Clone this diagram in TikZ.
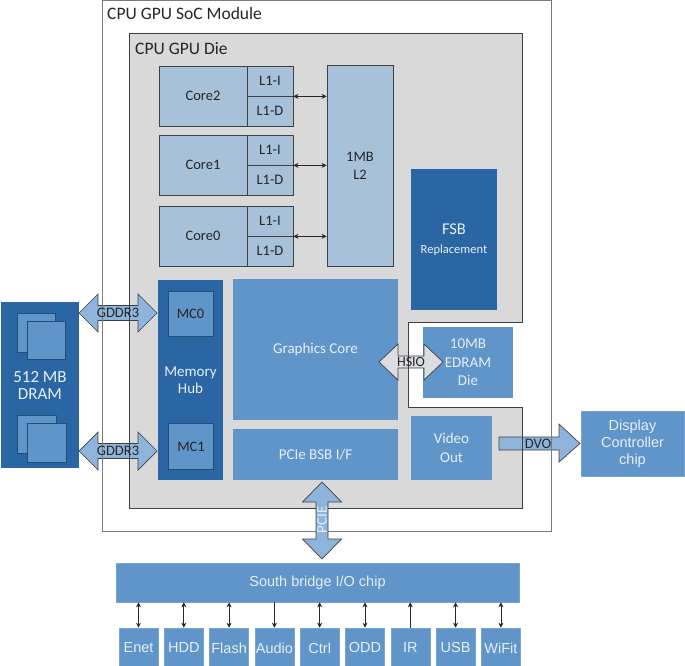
\documentclass[tikz,border=0pt]{standalone}
\usepackage{fontspec}
\setmainfont{Carlito}
\newfontfamily\lib{Liberation Sans}
\usetikzlibrary{arrows.meta}
\definecolor{diegray}{HTML}{D9D9D9}
\definecolor{lightblue}{HTML}{A7C1DB}
\definecolor{medblue}{HTML}{5F95C8}
\definecolor{darkblue}{HTML}{2A66A4}
\definecolor{arrowblue}{HTML}{8EB4DC}
\definecolor{hsiogray}{HTML}{DCDDE2}
\definecolor{lighttext}{HTML}{E8EEF5}
\definecolor{darktext}{HTML}{262626}
\definecolor{edge}{HTML}{404040}
\definecolor{modgray}{HTML}{7A7A7A}
\definecolor{sqedge}{HTML}{1F4E79}
\newcommand\fsz[2]{\fontsize{#1}{#2}\selectfont}
\newcommand\dieoutline{(129,33) -- (522,33) -- (522,322) -- (408,322) -- (408,407) -- (522,407) -- (522,508) -- (129,508) -- cycle}
% horizontal double block arrow: x1,x2,y,shaft half,head half,head length,style
\newcommand\hdblarrow[7]{%
  \draw[#7] (#1,#3) -- ({#1+#6},{#3-#5}) -- ({#1+#6},{#3-#4}) -- ({#2-#6},{#3-#4}) -- ({#2-#6},{#3-#5}) -- (#2,#3) -- ({#2-#6},{#3+#5}) -- ({#2-#6},{#3+#4}) -- ({#1+#6},{#3+#4}) -- ({#1+#6},{#3+#5}) -- cycle;}
% vertical double block arrow: y1,y2,x,shaft half,head half,head length,style
\newcommand\vdblarrow[7]{%
  \draw[#7] (#3,#1) -- ({#3-#5},{#1+#6}) -- ({#3-#4},{#1+#6}) -- ({#3-#4},{#2-#6}) -- ({#3-#5},{#2-#6}) -- (#3,#2) -- ({#3+#5},{#2-#6}) -- ({#3+#4},{#2-#6}) -- ({#3+#4},{#1+#6}) -- ({#3+#5},{#1+#6}) -- cycle;}
\tikzset{
  box/.style={rectangle, inner sep=0pt, align=center},
  corebox/.style={box, fill=lightblue, draw=edge, line width=0.8pt, text=darktext, font=\fsz{14.5}{18}},
  medbox/.style={box, fill=medblue, text=lighttext, font=\fsz{15}{18.5}},
  darkbox/.style={box, fill=darkblue, text=lighttext, font=\fsz{15}{17.5}},
  mcbox/.style={box, fill=medblue, draw=sqedge, line width=0.8pt, text=darktext, font=\fsz{14.5}{18}},
  libbox/.style={box, fill=medblue, draw=medblue!85!white, line width=0.6pt, text=lighttext, font=\lib\fsz{14.5}{17}},
  blockarrow/.style={fill=arrowblue, draw=edge, line width=0.7pt, line join=miter},
  greyarrow/.style={fill=hsiogray, draw=edge, line width=0.7pt, line join=miter},
  arrowlabel/.style={inner sep=0pt, text=darktext, font=\fsz{14.5}{17}},
  twoway/.style={draw=black!85, line width=0.7pt, {Stealth[length=5pt,width=5pt]}-{Stealth[length=5pt,width=5pt]}},
  oneway/.style={draw=black!85, line width=0.7pt, -{Stealth[length=5pt,width=5pt]}},
  title/.style={anchor=base west, inner sep=0pt, text=darktext, font=\fsz{17.5}{20}},
  modline/.style={draw=modgray, line width=0.8pt},
  dieline/.style={draw=edge, line width=0.8pt}
}
\begin{document}
\begin{tikzpicture}[x=1pt,y=-1pt]
\useasboundingbox (0,0) rectangle (685,666);
% module
\node[fill=white, minimum width=448, minimum height=530, inner sep=0pt] (module) at (327,266) {};
\node[title] (modlabel) at (107,20) {CPU GPU SoC Module};
% die
\fill[diegray] \dieoutline;
\node[title] (dielabel) at (135,55) {CPU GPU Die};
% cores
\node[corebox, minimum width=88, minimum height=60] (core2) at (203,96) {Core2};
\node[corebox, minimum width=46, minimum height=30] (c2i) at (270,81) {L1-I};
\node[corebox, minimum width=46, minimum height=30] (c2d) at (270,111) {L1-D};
\node[corebox, minimum width=88, minimum height=60] (core1) at (203,165) {Core1};
\node[corebox, minimum width=46, minimum height=30] (c1i) at (270,150) {L1-I};
\node[corebox, minimum width=46, minimum height=30] (c1d) at (270,180) {L1-D};
\node[corebox, minimum width=88, minimum height=60] (core0) at (203,236) {Core0};
\node[corebox, minimum width=46, minimum height=30] (c0i) at (270,221) {L1-I};
\node[corebox, minimum width=46, minimum height=30] (c0d) at (270,251) {L1-D};
\node[corebox, minimum width=66, minimum height=201] (l2) at (360,165.5) {1MB\\L2};
\draw[twoway] (c2i.south east) -- (c2i.south east -| l2.west);
\draw[twoway] (c1i.south east) -- (c1i.south east -| l2.west);
\draw[twoway] (c0i.south east) -- (c0i.south east -| l2.west);
% FSB
\node[darkbox, minimum width=86, minimum height=141] (fsb) at (454,239.5) {\fsz{16.5}{19}FSB\\[1pt]\fsz{12.5}{14}Replacement};
% memory hub
\node[darkbox, minimum width=65, minimum height=200] (hub) at (190.5,380) {Memory\\Hub};
\node[mcbox, minimum width=45, minimum height=45] (mc0) at (190.5,313.5) {MC0};
\node[mcbox, minimum width=45, minimum height=46] (mc1) at (191,446.5) {MC1};
% graphics etc
\node[medbox, minimum width=165, minimum height=141] (gfx) at (315.5,349.5) {Graphics Core};
\node[medbox, minimum width=165, minimum height=51] (pcie) at (315.5,454.5) {PCIe BSB I/F};
\node[medbox, minimum width=81, minimum height=64] (vout) at (451.5,448) {Video\\Out};
\node[medbox, minimum width=90, minimum height=71] (edram) at (468,362.5) {10MB\\EDRAM\\Die};
% display
\node[libbox, minimum width=103, minimum height=65] (disp) at (632.5,443.5) {Display\\Controller\\chip};
% DRAM
\node[darkbox, minimum width=78, minimum height=166] (dram) at (40,385) {};
\draw[fill=medblue, draw=sqedge, line width=0.7pt] (17,313) rectangle (55,352);
\draw[fill=medblue, draw=sqedge, line width=0.7pt] (27,321) rectangle (65,359);
\draw[fill=medblue, draw=sqedge, line width=0.7pt] (17,415) rectangle (56,453);
\draw[fill=medblue, draw=sqedge, line width=0.7pt] (27,423) rectangle (66,462);
\node[inner sep=0pt, align=center, text=lighttext, font=\fsz{17}{17}] (dramlabel) at (40,385) {512 MB\\DRAM};
% block arrows under the outlines
\hdblarrow{79}{157}{313}{7.5}{19}{19}{blockarrow}
\hdblarrow{79}{157}{451}{7.5}{19}{19}{blockarrow}
\hdblarrow{379}{443}{362}{6}{18}{19}{greyarrow}
\draw[blockarrow] (499,437) -- (559,437) -- (559,424) -- (580,443.5) -- (559,462) -- (559,450) -- (499,450) -- cycle;
% outlines of module and die, drawn across those arrows
\draw[modline] (module.north west) rectangle (module.south east);
\draw[dieline] \dieoutline;
% arrow labels
\node[arrowlabel] (gddr0) at (118,313) {GDDR3};
\node[arrowlabel] (gddr1) at (118,451) {GDDR3};
\node[arrowlabel, font=\fsz{14}{17}] (hsio) at (411,362) {HSIO};
\node[arrowlabel] (dvo) at (538,443.5) {DVO};
% PCIE arrow on top of the outlines
\vdblarrow{482}{559}{322}{6}{19.5}{20}{blockarrow}
\node[arrowlabel, text=lighttext, rotate=90, font=\fsz{15}{17}] (pcielbl) at (322,520) {PCIE};
% south bridge
\node[libbox, minimum width=403, minimum height=39] (sb) at (317.5,582.5) {South bridge I/O chip};
\foreach \lbl [count=\i from 0] in {Enet,HDD,Flash,Audio,Ctrl,ODD,IR,USB,WiFit} {
  \node[libbox, minimum width=39, minimum height=40] (io\i) at ({138.5+45.3*\i},648) {\lbl};
}
\foreach \i in {0,1,2,4,5,7,8} {
  \draw[twoway] (io\i.north) -- (io\i.north |- sb.south);
}
\draw[oneway] (io3.north |- sb.south) -- (io3.north);
\draw[oneway] (io6.north) -- (io6.north |- sb.south);
\end{tikzpicture}
\end{document}
